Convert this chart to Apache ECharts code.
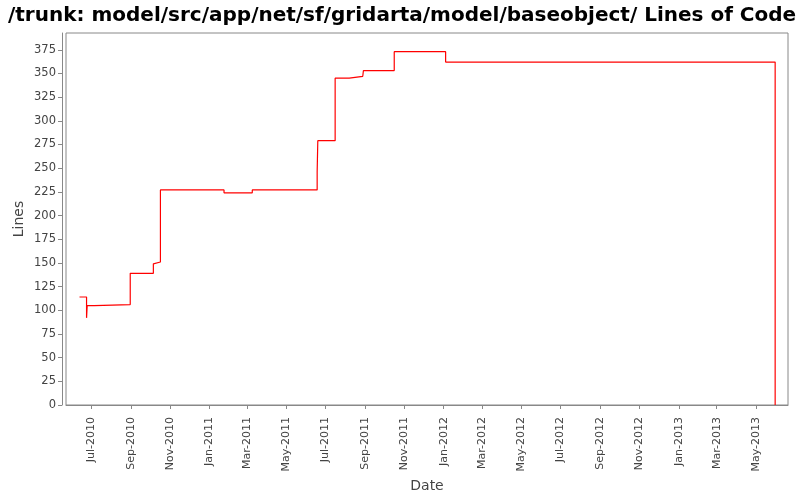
<!DOCTYPE html>
<html>
<head>
<meta charset="utf-8">
<script src="https://cdn.jsdelivr.net/npm/echarts@6/dist/echarts.min.js"></script>
<style>
  html, body { margin: 0; padding: 0; background: #fff; }
  #chart { width: 800px; height: 500px; }
</style>
</head>
<body>
<div id="chart"></div>
<script>
// step points: date the value starts at, and lines of code
const dates = [
  '2010-06-13', '2010-06-24', '2010-06-25', '2010-07-06', '2010-08-31',
  '2010-10-06', '2010-10-09', '2010-10-17', '2011-01-24', '2011-03-09',
  '2011-06-18', '2011-06-19', '2011-07-16', '2011-08-07', '2011-08-28',
  '2011-08-29', '2011-10-16', '2012-01-04', '2013-05-31'
];
const lines = [
  114, 92, 105, 106, 139,
  149, 151, 227, 224, 227,
  246, 279, 345, 347, 348,
  353, 373, 362, 0
];
const monthTicks = [
  '2010-07-01', '2010-09-01', '2010-11-01', '2011-01-01', '2011-03-01',
  '2011-05-01', '2011-07-01', '2011-09-01', '2011-11-01', '2012-01-01',
  '2012-03-01', '2012-05-01', '2012-07-01', '2012-09-01', '2012-11-01',
  '2013-01-01', '2013-03-01', '2013-05-01'
];
const lineTicks = [0, 25, 50, 75, 100, 125, 150, 175, 200, 225, 250, 275, 300, 325, 350, 375];
const monthNames = ['Jan', 'Feb', 'Mar', 'Apr', 'May', 'Jun', 'Jul', 'Aug', 'Sep', 'Oct', 'Nov', 'Dec'];

function toTime(s) {
  const p = s.split('-').map(Number);
  return new Date(p[0], p[1] - 1, p[2]).getTime();
}

const seriesData = dates.map((d, i) => [toTime(d), lines[i]]);
const tickTimes = monthTicks.map(toTime);

const chart = echarts.init(document.getElementById('chart'));
chart.setOption({
  animation: false,
  backgroundColor: '#fff',
  title: {
    text: '/trunk: model/src/app/net/sf/gridarta/model/baseobject/ Lines of Code',
    left: 3,
    top: 1,
    textStyle: {
      fontFamily: 'DejaVu Sans',
      fontWeight: 'bold',
      fontSize: 20,
      color: '#000'
    }
  },
  grid: {
    left: 66,
    right: 12,
    top: 33,
    bottom: 95,
    show: true,
    borderColor: '#888',
    borderWidth: 1,
    backgroundColor: '#fff'
  },
  xAxis: {
    type: 'value',
    min: toTime('2010-05-23'),
    max: toTime('2013-06-20'),
    offset: 4,
    name: 'Date',
    nameLocation: 'middle',
    nameGap: 70,
    nameTextStyle: { fontFamily: 'DejaVu Sans', fontSize: 14, fontWeight: 500, color: '#444' },
    axisLine: { show: true, lineStyle: { color: '#888' } },
    axisTick: { show: true, length: 4, customValues: tickTimes, lineStyle: { color: '#888' } },
    axisLabel: {
      customValues: tickTimes,
      rotate: 90,
      margin: 8,
      fontFamily: 'DejaVu Sans',
      fontSize: 11,
      color: '#444',
      formatter: function (v) {
        const d = new Date(v);
        return monthNames[d.getMonth()] + '-' + d.getFullYear();
      }
    },
    splitLine: { show: false }
  },
  yAxis: {
    type: 'value',
    min: 0,
    max: 392.7,
    offset: 4,
    name: 'Lines',
    nameLocation: 'middle',
    nameGap: 36,
    nameMoveOverlap: false,
    nameTextStyle: { fontFamily: 'DejaVu Sans', fontSize: 14, fontWeight: 500, color: '#444' },
    axisLine: { show: true, lineStyle: { color: '#888' } },
    axisTick: { show: true, length: 4, customValues: lineTicks, lineStyle: { color: '#888' } },
    axisLabel: {
      customValues: lineTicks,
      margin: 6,
      fontFamily: 'DejaVu Sans',
      fontSize: 11.5,
      color: '#444'
    },
    splitLine: { show: false }
  },
  series: [{
    type: 'line',
    step: 'end',
    data: seriesData,
    showSymbol: false,
    lineStyle: { color: '#ff0000', width: 1.2 },
    itemStyle: { color: '#ff0000' }
  }]
});
</script>
</body>
</html>
